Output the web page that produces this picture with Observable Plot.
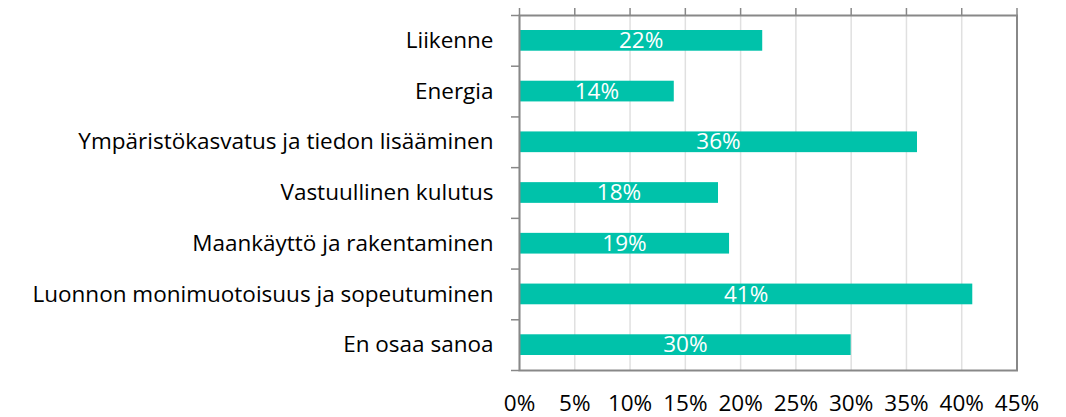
<!DOCTYPE html>
<html><head><meta charset="utf-8">
<script src="https://cdn.jsdelivr.net/npm/d3@7"></script>
<script src="https://cdn.jsdelivr.net/npm/@observablehq/plot@0.6"></script>
<style>body{margin:0;background:#fff}</style>
</head><body><div id="chart"></div>
<script>
const categories = ["Liikenne","Energia","Ympäristökasvatus ja tiedon lisääminen","Vastuullinen kulutus","Maankäyttö ja rakentaminen","Luonnon monimuotoisuus ja sopeutuminen","En osaa sanoa"];
const values = [22,14,36,18,19,41,30];
const xTicks = [0,5,10,15,20,25,30,35,40,45];
const data = categories.map((c,i)=>({c, v: values[i], i}));
const font = "'Open Sans', sans-serif";
const fs = 22.5;
const chart = Plot.plot({
  width: 1066, height: 417,
  marginLeft: 519, marginRight: 49.5, marginTop: 15, marginBottom: 47,
  style: {fontFamily: font, fontSize: fs + "px", color: "#000", background: "#fff"},
  x: {domain: [0,45], label: null},
  y: {domain: [0, categories.length], range: [15, 370], label: null},
  marks: [
    Plot.ruleX(xTicks, {stroke: "#e0e0e0", strokeWidth: 1.5}),
    Plot.rectX(data, {x1: 0, x2: "v", y1: "i", y2: d=>d.i+1, insetTop: 15, insetBottom: 15, fill: "#00C2AA"}),
    Plot.text(data, {x: d=>d.v/2, y: d=>d.i+0.5, text: d=>d.v+"%", fill: "#fff", fontSize: fs}),
    Plot.text(data, {x: 0, y: d=>d.i+0.5, text: "c", textAnchor: "end", dx: -26, fill: "#000", fontSize: fs}),
    Plot.frame({stroke: "#888", strokeWidth: 2}),
    Plot.axisX({anchor: "top", ticks: xTicks, tickSize: 8, tickFormat: () => "", label: null, stroke: "#888", strokeWidth: 1.5}),
    Plot.axisX({anchor: "bottom", ticks: xTicks, tickSize: 0, tickPadding: 25, tickFormat: d=>d+"%", label: null, fontSize: fs, fill: "#000"}),
    Plot.axisY({anchor: "left", ticks: d3.range(categories.length+1), tickSize: 8, tickFormat: () => "", label: null, stroke: "#888", strokeWidth: 1.5})
  ]
});
document.getElementById("chart").appendChild(chart);
</script></body></html>
